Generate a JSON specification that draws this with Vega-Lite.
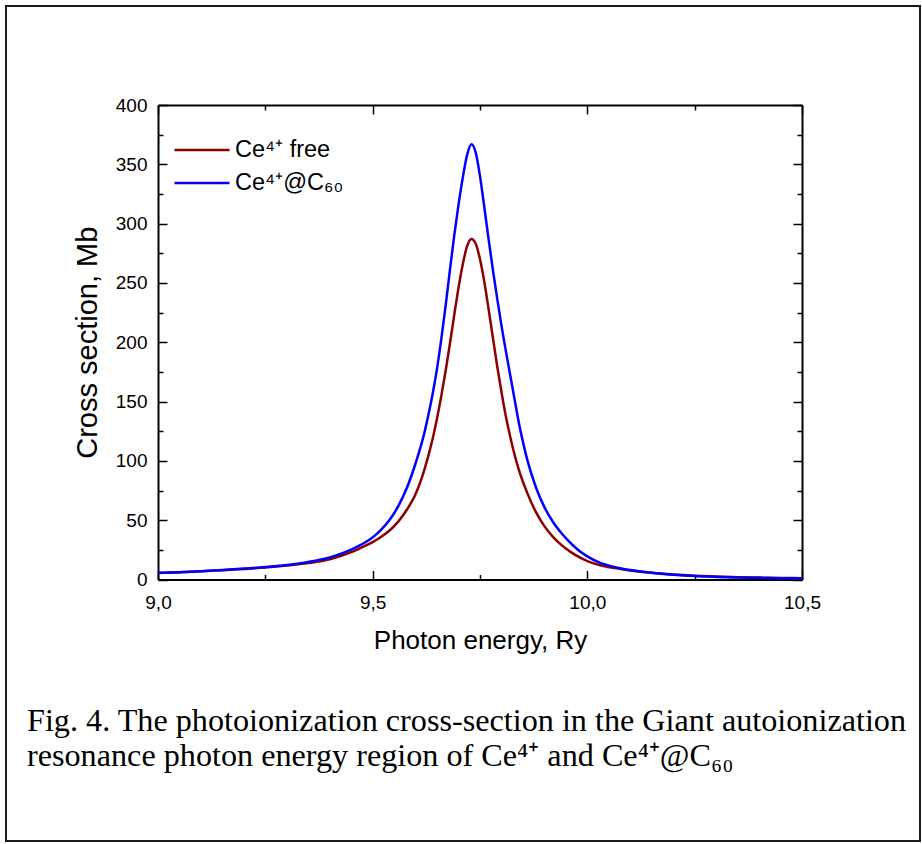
{
  "$schema": "https://vega.github.io/schema/vega-lite/v6.json",
  "autosize": {"type": "none"},
  "padding": {"left": 6, "top": 6, "right": 2, "bottom": 3},
  "width": 914,
  "height": 835,
  "background": "white",
  "view": {"stroke": "#1a1a1a", "strokeWidth": 2, "fill": "white"},
  "title": {
    "text": ["Fig. 4. The photoionization cross-section in the Giant autoionization", "resonance photon energy region of Ce⁴⁺ and Ce⁴⁺@C₆₀"],
    "orient": "bottom",
    "anchor": "start",
    "frame": "group",
    "offset": -135,
    "dx": 21,
    "font": "Liberation Serif",
    "fontSize": 32.2,
    "fontWeight": "normal",
    "lineHeight": 35,
    "color": "black",
    "baseline": "top"
  },
  "datasets": {
    "curves": [
      {"e": 9.00, "s": 5.5, "c": "Ce⁴⁺ free"},
      {"e": 9.05, "s": 6.1, "c": "Ce⁴⁺ free"},
      {"e": 9.10, "s": 6.9, "c": "Ce⁴⁺ free"},
      {"e": 9.15, "s": 7.8, "c": "Ce⁴⁺ free"},
      {"e": 9.20, "s": 8.9, "c": "Ce⁴⁺ free"},
      {"e": 9.25, "s": 10.1, "c": "Ce⁴⁺ free"},
      {"e": 9.30, "s": 11.7, "c": "Ce⁴⁺ free"},
      {"e": 9.35, "s": 13.8, "c": "Ce⁴⁺ free"},
      {"e": 9.40, "s": 17.0, "c": "Ce⁴⁺ free"},
      {"e": 9.43, "s": 20.3, "c": "Ce⁴⁺ free"},
      {"e": 9.45, "s": 23.0, "c": "Ce⁴⁺ free"},
      {"e": 9.47, "s": 26.3, "c": "Ce⁴⁺ free"},
      {"e": 9.50, "s": 31.5, "c": "Ce⁴⁺ free"},
      {"e": 9.52, "s": 36, "c": "Ce⁴⁺ free"},
      {"e": 9.54, "s": 41.5, "c": "Ce⁴⁺ free"},
      {"e": 9.56, "s": 49, "c": "Ce⁴⁺ free"},
      {"e": 9.58, "s": 59, "c": "Ce⁴⁺ free"},
      {"e": 9.60, "s": 72, "c": "Ce⁴⁺ free"},
      {"e": 9.62, "s": 92, "c": "Ce⁴⁺ free"},
      {"e": 9.64, "s": 119, "c": "Ce⁴⁺ free"},
      {"e": 9.65, "s": 136, "c": "Ce⁴⁺ free"},
      {"e": 9.66, "s": 155, "c": "Ce⁴⁺ free"},
      {"e": 9.67, "s": 176, "c": "Ce⁴⁺ free"},
      {"e": 9.68, "s": 199, "c": "Ce⁴⁺ free"},
      {"e": 9.69, "s": 223, "c": "Ce⁴⁺ free"},
      {"e": 9.70, "s": 246, "c": "Ce⁴⁺ free"},
      {"e": 9.71, "s": 266, "c": "Ce⁴⁺ free"},
      {"e": 9.72, "s": 281, "c": "Ce⁴⁺ free"},
      {"e": 9.73, "s": 287, "c": "Ce⁴⁺ free"},
      {"e": 9.74, "s": 283, "c": "Ce⁴⁺ free"},
      {"e": 9.75, "s": 270, "c": "Ce⁴⁺ free"},
      {"e": 9.76, "s": 251, "c": "Ce⁴⁺ free"},
      {"e": 9.77, "s": 228, "c": "Ce⁴⁺ free"},
      {"e": 9.78, "s": 204, "c": "Ce⁴⁺ free"},
      {"e": 9.79, "s": 180, "c": "Ce⁴⁺ free"},
      {"e": 9.80, "s": 158, "c": "Ce⁴⁺ free"},
      {"e": 9.81, "s": 138, "c": "Ce⁴⁺ free"},
      {"e": 9.82, "s": 121, "c": "Ce⁴⁺ free"},
      {"e": 9.84, "s": 93, "c": "Ce⁴⁺ free"},
      {"e": 9.86, "s": 73, "c": "Ce⁴⁺ free"},
      {"e": 9.88, "s": 57, "c": "Ce⁴⁺ free"},
      {"e": 9.90, "s": 45, "c": "Ce⁴⁺ free"},
      {"e": 9.92, "s": 36, "c": "Ce⁴⁺ free"},
      {"e": 9.94, "s": 29, "c": "Ce⁴⁺ free"},
      {"e": 9.96, "s": 23.5, "c": "Ce⁴⁺ free"},
      {"e": 9.98, "s": 19, "c": "Ce⁴⁺ free"},
      {"e": 10.00, "s": 15.5, "c": "Ce⁴⁺ free"},
      {"e": 10.03, "s": 12, "c": "Ce⁴⁺ free"},
      {"e": 10.06, "s": 9.8, "c": "Ce⁴⁺ free"},
      {"e": 10.10, "s": 7.6, "c": "Ce⁴⁺ free"},
      {"e": 10.15, "s": 5.6, "c": "Ce⁴⁺ free"},
      {"e": 10.20, "s": 4.2, "c": "Ce⁴⁺ free"},
      {"e": 10.25, "s": 3.2, "c": "Ce⁴⁺ free"},
      {"e": 10.30, "s": 2.5, "c": "Ce⁴⁺ free"},
      {"e": 10.35, "s": 2.0, "c": "Ce⁴⁺ free"},
      {"e": 10.40, "s": 1.6, "c": "Ce⁴⁺ free"},
      {"e": 10.45, "s": 1.3, "c": "Ce⁴⁺ free"},
      {"e": 10.50, "s": 1.1, "c": "Ce⁴⁺ free"},
      {"e": 9.00, "s": 5.6, "c": "Ce⁴⁺@C₆₀"},
      {"e": 9.05, "s": 6.2, "c": "Ce⁴⁺@C₆₀"},
      {"e": 9.10, "s": 7.0, "c": "Ce⁴⁺@C₆₀"},
      {"e": 9.15, "s": 8.0, "c": "Ce⁴⁺@C₆₀"},
      {"e": 9.20, "s": 9.2, "c": "Ce⁴⁺@C₆₀"},
      {"e": 9.25, "s": 10.5, "c": "Ce⁴⁺@C₆₀"},
      {"e": 9.30, "s": 12.3, "c": "Ce⁴⁺@C₆₀"},
      {"e": 9.35, "s": 14.8, "c": "Ce⁴⁺@C₆₀"},
      {"e": 9.40, "s": 18.6, "c": "Ce⁴⁺@C₆₀"},
      {"e": 9.43, "s": 22.2, "c": "Ce⁴⁺@C₆₀"},
      {"e": 9.45, "s": 25.2, "c": "Ce⁴⁺@C₆₀"},
      {"e": 9.47, "s": 28.8, "c": "Ce⁴⁺@C₆₀"},
      {"e": 9.50, "s": 35.5, "c": "Ce⁴⁺@C₆₀"},
      {"e": 9.52, "s": 42, "c": "Ce⁴⁺@C₆₀"},
      {"e": 9.54, "s": 50.5, "c": "Ce⁴⁺@C₆₀"},
      {"e": 9.56, "s": 62, "c": "Ce⁴⁺@C₆₀"},
      {"e": 9.58, "s": 77.5, "c": "Ce⁴⁺@C₆₀"},
      {"e": 9.60, "s": 98, "c": "Ce⁴⁺@C₆₀"},
      {"e": 9.62, "s": 123, "c": "Ce⁴⁺@C₆₀"},
      {"e": 9.63, "s": 139, "c": "Ce⁴⁺@C₆₀"},
      {"e": 9.64, "s": 157, "c": "Ce⁴⁺@C₆₀"},
      {"e": 9.65, "s": 178, "c": "Ce⁴⁺@C₆₀"},
      {"e": 9.66, "s": 203, "c": "Ce⁴⁺@C₆₀"},
      {"e": 9.67, "s": 231, "c": "Ce⁴⁺@C₆₀"},
      {"e": 9.68, "s": 261, "c": "Ce⁴⁺@C₆₀"},
      {"e": 9.69, "s": 290, "c": "Ce⁴⁺@C₆₀"},
      {"e": 9.70, "s": 316, "c": "Ce⁴⁺@C₆₀"},
      {"e": 9.71, "s": 339, "c": "Ce⁴⁺@C₆₀"},
      {"e": 9.72, "s": 358, "c": "Ce⁴⁺@C₆₀"},
      {"e": 9.73, "s": 367, "c": "Ce⁴⁺@C₆₀"},
      {"e": 9.74, "s": 360, "c": "Ce⁴⁺@C₆₀"},
      {"e": 9.75, "s": 340, "c": "Ce⁴⁺@C₆₀"},
      {"e": 9.76, "s": 314, "c": "Ce⁴⁺@C₆₀"},
      {"e": 9.77, "s": 287, "c": "Ce⁴⁺@C₆₀"},
      {"e": 9.78, "s": 261, "c": "Ce⁴⁺@C₆₀"},
      {"e": 9.79, "s": 237, "c": "Ce⁴⁺@C₆₀"},
      {"e": 9.80, "s": 214, "c": "Ce⁴⁺@C₆₀"},
      {"e": 9.81, "s": 193, "c": "Ce⁴⁺@C₆₀"},
      {"e": 9.82, "s": 173, "c": "Ce⁴⁺@C₆₀"},
      {"e": 9.83, "s": 153, "c": "Ce⁴⁺@C₆₀"},
      {"e": 9.84, "s": 133, "c": "Ce⁴⁺@C₆₀"},
      {"e": 9.85, "s": 116, "c": "Ce⁴⁺@C₆₀"},
      {"e": 9.86, "s": 101, "c": "Ce⁴⁺@C₆₀"},
      {"e": 9.88, "s": 78, "c": "Ce⁴⁺@C₆₀"},
      {"e": 9.90, "s": 61, "c": "Ce⁴⁺@C₆₀"},
      {"e": 9.92, "s": 48.5, "c": "Ce⁴⁺@C₆₀"},
      {"e": 9.94, "s": 39, "c": "Ce⁴⁺@C₆₀"},
      {"e": 9.96, "s": 31, "c": "Ce⁴⁺@C₆₀"},
      {"e": 9.98, "s": 24.5, "c": "Ce⁴⁺@C₆₀"},
      {"e": 10.00, "s": 19.5, "c": "Ce⁴⁺@C₆₀"},
      {"e": 10.03, "s": 14, "c": "Ce⁴⁺@C₆₀"},
      {"e": 10.06, "s": 10.8, "c": "Ce⁴⁺@C₆₀"},
      {"e": 10.10, "s": 8.0, "c": "Ce⁴⁺@C₆₀"},
      {"e": 10.15, "s": 5.7, "c": "Ce⁴⁺@C₆₀"},
      {"e": 10.20, "s": 4.1, "c": "Ce⁴⁺@C₆₀"},
      {"e": 10.25, "s": 2.9, "c": "Ce⁴⁺@C₆₀"},
      {"e": 10.30, "s": 2.2, "c": "Ce⁴⁺@C₆₀"},
      {"e": 10.35, "s": 1.7, "c": "Ce⁴⁺@C₆₀"},
      {"e": 10.40, "s": 1.4, "c": "Ce⁴⁺@C₆₀"},
      {"e": 10.45, "s": 1.1, "c": "Ce⁴⁺@C₆₀"},
      {"e": 10.50, "s": 0.9, "c": "Ce⁴⁺@C₆₀"}
    ]
  },
  "data": {"name": "curves"},
  "layer": [
    {
      "mark": {"type": "line", "strokeWidth": 2.5, "interpolate": "monotone"},
      "encoding": {
        "x": {
          "field": "e", "type": "quantitative",
          "scale": {"domain": [9, 10.5], "range": [152, 796], "nice": false, "zero": false},
          "axis": {
            "orient": "bottom", "offset": -261.5,
            "values": [9, 9.25, 9.5, 9.75, 10, 10.25, 10.5],
            "tickSize": {"condition": {"test": "datum.value % 0.5 != 0", "value": -5}, "value": -9},
            "labelExpr": "datum.value % 0.5 == 0 ? replace(format(datum.value, '.1f'), '.', ',') : ''",
            "title": "Photon energy, Ry",
            "titleFontSize": 26
          }
        },
        "y": {
          "field": "s", "type": "quantitative",
          "scale": {"domain": [0, 400], "range": [573.5, 99], "nice": false},
          "axis": {
            "orient": "left", "offset": -152,
            "values": [0, 25, 50, 75, 100, 125, 150, 175, 200, 225, 250, 275, 300, 325, 350, 375, 400],
            "tickSize": {"condition": {"test": "datum.value % 50 != 0", "value": -5}, "value": -9},
            "labelExpr": "datum.value % 50 == 0 ? format(datum.value, 'd') : ''",
            "title": "Cross section, Mb",
            "titleFontSize": 29
          }
        },
        "color": {
          "field": "c", "type": "nominal",
          "scale": {"domain": ["Ce⁴⁺ free", "Ce⁴⁺@C₆₀"], "range": ["#8b0000", "#0000ff"]},
          "legend": {
            "title": null, "orient": "none", "legendX": 181, "legendY": 129,
            "symbolType": "M-2,0H2", "symbolSize": 756, "symbolStrokeWidth": 2.5,
            "symbolFillColor": "transparent",
            "labelFont": "Liberation Sans", "labelFontSize": 23.5, "labelColor": "black",
            "labelOffset": 18, "rowPadding": 6, "padding": 0
          }
        }
      }
    },
    {
      "mark": {"type": "line", "opacity": 0},
      "encoding": {
        "x": {
          "field": "e", "type": "quantitative",
          "axis": {
            "orient": "top", "offset": -99,
            "values": [9, 9.25, 9.5, 9.75, 10, 10.25, 10.5],
            "tickSize": {"condition": {"test": "datum.value % 0.5 != 0", "value": -5}, "value": -9},
            "labels": false, "title": null
          }
        },
        "y": {
          "field": "s", "type": "quantitative",
          "axis": {
            "orient": "right", "offset": -118,
            "values": [0, 25, 50, 75, 100, 125, 150, 175, 200, 225, 250, 275, 300, 325, 350, 375, 400],
            "tickSize": {"condition": {"test": "datum.value % 50 != 0", "value": -5}, "value": -9},
            "labels": false, "title": null
          }
        },
        "detail": {"field": "c"}
      }
    }
  ],
  "resolve": {"axis": {"x": "independent", "y": "independent"}},
  "config": {
    "axis": {
      "grid": false,
      "domainColor": "black", "domainWidth": 2,
      "tickColor": "black", "tickWidth": 1.5,
      "labelFont": "Liberation Sans", "labelFontSize": 19, "labelColor": "black",
      "labelFlush": false, "labelOverlap": false, "labelBound": false,
      "titleFont": "Liberation Sans", "titleFontWeight": "normal", "titleColor": "black"
    },
    "axisX": {"labelPadding": 23, "titlePadding": 11},
    "axisY": {"labelPadding": 20, "titlePadding": 13}
  }
}
